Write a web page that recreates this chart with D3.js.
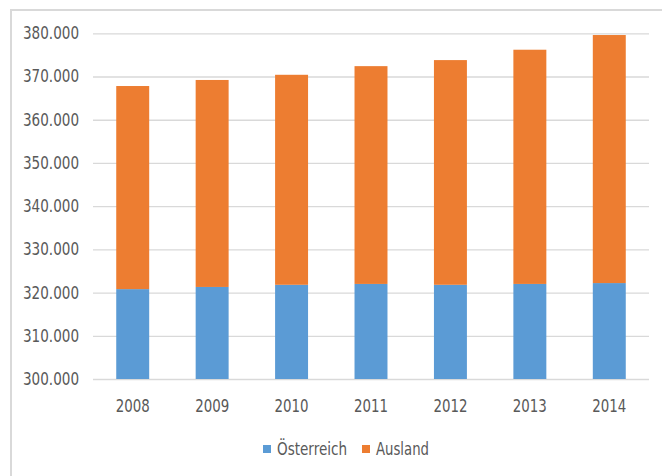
<!DOCTYPE html>
<html><head><meta charset="utf-8">
<script src="https://cdn.jsdelivr.net/npm/d3@7"></script>
<style>
body{margin:0;background:#fff;}
text{font-family:"Liberation Sans Narrow","DejaVu Sans Condensed",sans-serif;fill:#595959;}
</style></head>
<body><svg id="c" width="662" height="476"></svg>
<script>
const years = ["2008","2009","2010","2011","2012","2013","2014"];
const oesterreich = [320800, 321300, 321800, 322000, 321800, 322000, 322200];
const ausland = [47000, 47900, 48600, 50400, 52000, 54200, 57400];
const yTicks = [300000,310000,320000,330000,340000,350000,360000,370000,380000];
const seriesNames = ["Österreich","Ausland"];
const colors = ["#5B9BD5","#ED7D31"];

const svg = d3.select("#c");
// frame
svg.append("rect").attr("x",11).attr("y",10).attr("width",700).attr("height",520)
  .attr("fill","#fff").attr("stroke","#d9d9d9").attr("stroke-width",2);

const x = d3.scaleBand().domain(years).range([93,649]).paddingInner(0.585).paddingOuter(0.2925);
const y = d3.scaleLinear().domain([300000,380000]).range([379,33.3]);
const fmt = v => d3.format(",")(v).replace(/,/g,".");

const gy = svg.append("g").attr("transform","translate(93,0)")
  .call(d3.axisLeft(y).tickValues(yTicks).tickSize(-556).tickFormat(fmt).tickPadding(14));
gy.select(".domain").remove();
gy.selectAll(".tick line").attr("stroke","#d9d9d9").attr("stroke-width",1.3);
gy.selectAll(".tick text").attr("font-size",17).style("fill","#595959")
  .attr("textLength",56).attr("lengthAdjust","spacingAndGlyphs");

const gx = svg.append("g").attr("transform","translate(0,379)")
  .call(d3.axisBottom(x).tickSize(0).tickPadding(21));
gx.select(".domain").remove();
gx.selectAll(".tick text").attr("font-size",17).style("fill","#595959")
  .attr("textLength",34).attr("lengthAdjust","spacingAndGlyphs");

const data = years.map((yr,i)=>({year:yr, "Österreich":oesterreich[i]-300000, "Ausland":ausland[i]}));
const stack = d3.stack().keys(seriesNames)(data);
svg.append("g").selectAll("g").data(stack).join("g").attr("fill",(d,i)=>colors[i])
  .selectAll("rect").data(d=>d).join("rect")
  .attr("x",d=>x(d.data.year)).attr("width",x.bandwidth())
  .attr("y",d=>y(300000+d[1])).attr("height",d=>y(300000+d[0])-y(300000+d[1]));

// legend
const lg = svg.append("g");
const lx = [263, 362];
const lw = [70, 53];
seriesNames.forEach((n,i)=>{
  lg.append("rect").attr("x",lx[i]).attr("y",445).attr("width",8).attr("height",8).attr("fill",colors[i]);
  lg.append("text").attr("x",lx[i]+14).attr("y",455).attr("font-size",17)
    .attr("textLength",lw[i]).attr("lengthAdjust","spacingAndGlyphs").text(n);
});
</script></body></html>
